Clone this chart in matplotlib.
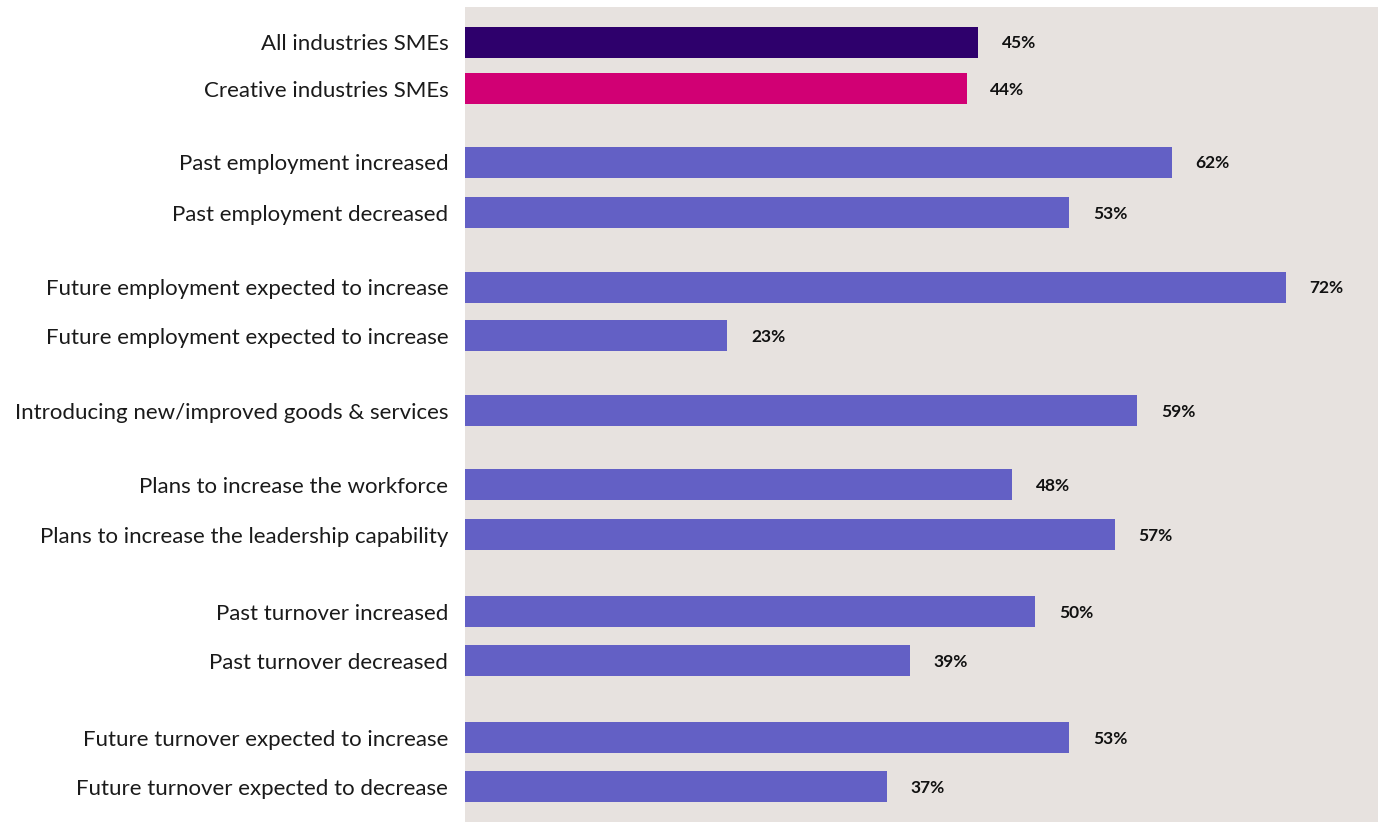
import matplotlib.pyplot as plt

labels = [
    "All industries SMEs",
    "Creative industries SMEs",
    "Past employment increased",
    "Past employment decreased",
    "Future employment expected to increase",
    "Future employment expected to increase",
    "Introducing new/improved goods & services",
    "Plans to increase the workforce",
    "Plans to increase the leadership capability",
    "Past turnover increased",
    "Past turnover decreased",
    "Future turnover expected to increase",
    "Future turnover expected to decrease",
]
values = [45, 44, 62, 53, 72, 23, 59, 48, 57, 50, 39, 53, 37]

colors = ["#2e006c", "#d10074"] + ["#6360c5"] * (len(values) - 2)

# row centres (pixel rows, axis runs top to bottom)
ypos = [42.5, 89, 162.5, 212.5, 287, 336, 410.5, 484.5, 534.5,
        611.5, 660.5, 737.5, 786.5]

plt.rcParams['font.family'] = ['Lato', 'DejaVu Sans']

fig = plt.figure(figsize=(13.78, 8.22), dpi=100)
ax = fig.add_axes([465 / 1378, 0, 913 / 1378, 815 / 822])
ax.set_facecolor("#e7e2df")

ax.barh(ypos, values, height=31, color=colors)
for yy, v in zip(ypos, values):
    ax.text(v + 2.1, yy + 1, f"{v}%", va="center", ha="left",
            fontsize=12.5, fontweight="bold", color="#111111")

ax.set_xlim(0, 80.1)
ax.set_ylim(822, 7)
ax.set_yticks(ypos)
ax.set_yticklabels(labels, fontsize=16, color="#1a1a1a")
ax.tick_params(axis="y", length=0, pad=12)
ax.set_xticks([])
for s in ax.spines.values():
    s.set_visible(False)

fig.savefig("out.png", dpi=100)
